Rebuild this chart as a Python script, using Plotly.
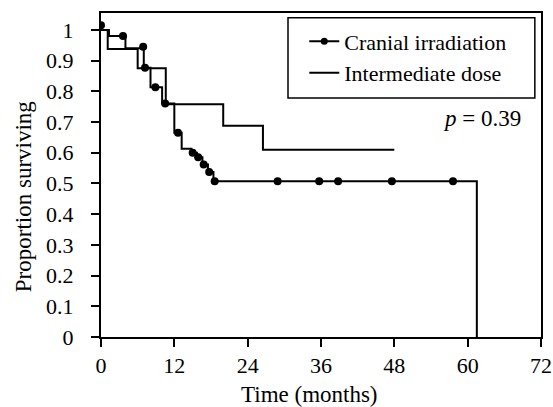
import plotly.graph_objects as go

# Cranial irradiation: step curve (event times and survival after each step)
cran_times = [0, 1.3, 4.0, 7.0, 8.1, 10.0, 12.0, 13.2, 14.8, 15.7, 16.6, 17.5, 18.4, 61.5]
cran_surv = [1.0, 0.98, 0.94, 0.877, 0.813, 0.76, 0.665, 0.613, 0.600, 0.585, 0.562, 0.537, 0.507, 0.0]
# Cranial irradiation: dot markers
cran_dot_t = [0, 3.6, 6.9, 7.2, 8.9, 10.5, 12.6, 15.0, 15.9, 16.8, 17.7, 18.6, 28.9, 35.7, 38.8, 47.6, 57.6]
cran_dot_s = [1.015, 0.98, 0.945, 0.877, 0.813, 0.76, 0.665, 0.600, 0.585, 0.562, 0.537, 0.507,
              0.507, 0.507, 0.507, 0.507, 0.507]

# Intermediate dose: step curve
int_times = [0, 1.1, 6.0, 10.6, 20.0, 26.5, 48.0]
int_surv = [1.0, 0.9375, 0.875, 0.758, 0.688, 0.61, 0.61]

x_ticks = [0, 12, 24, 36, 48, 60, 72]
y_ticks = [0, 0.1, 0.2, 0.3, 0.4, 0.5, 0.6, 0.7, 0.8, 0.9, 1]
y_tick_text = ["0", "0.1", "0.2", "0.3", "0.4", "0.5", "0.6", "0.7", "0.8", "0.9", "1"]

FONT = "Liberation Serif, Times New Roman, serif"

fig = go.Figure()
fig.add_trace(go.Scatter(x=cran_times, y=cran_surv, mode="lines", line_shape="hv",
                         line=dict(color="black", width=2), showlegend=False, hoverinfo="skip"))
fig.add_trace(go.Scatter(x=cran_dot_t, y=cran_dot_s, mode="markers",
                         marker=dict(color="black", size=8), showlegend=False))
fig.add_trace(go.Scatter(x=[None], y=[None], mode="lines+markers", name="Cranial irradiation",
                         line=dict(color="black", width=2), marker=dict(color="black", size=7)))
fig.add_trace(go.Scatter(x=int_times, y=int_surv, mode="lines", line_shape="hv",
                         name="Intermediate dose", line=dict(color="black", width=2)))

axis_common = dict(showline=True, linecolor="black", linewidth=2, mirror=True,
                   ticks="outside", ticklen=8, tickwidth=2, tickcolor="black",
                   showgrid=False, zeroline=False, automargin=False,
                   tickfont=dict(family=FONT, size=22, color="black"))

fig.update_xaxes(range=[0, 72], tickvals=x_ticks, ticktext=[str(v) for v in x_ticks],
                 **axis_common)
fig.update_yaxes(range=[0, 1.055], tickvals=y_ticks, ticktext=y_tick_text,
                 ticklabelstandoff=13, **axis_common)

fig.add_annotation(text="Time (months)", xref="paper", yref="paper", x=0.473, y=-0.177,
                   xanchor="center", yanchor="middle", showarrow=False,
                   font=dict(family=FONT, size=23, color="black"))
fig.add_annotation(text="Proportion surviving", xref="paper", yref="paper", x=-0.177, y=0.435,
                   xanchor="center", yanchor="middle", textangle=-90, showarrow=False,
                   font=dict(family=FONT, size=23, color="black"))
fig.add_annotation(text="<i>p</i> = 0.39", xref="paper", yref="paper", x=0.96, y=0.675,
                   xanchor="right", yanchor="middle", showarrow=False,
                   font=dict(family=FONT, size=23, color="black"))

# legend frame
fig.add_shape(type="rect", xref="paper", yref="paper", x0=0.425, x1=0.986, y0=0.738, y1=0.985,
              line=dict(color="black", width=1.5), fillcolor="white", layer="below")

fig.update_layout(
    template="none",
    width=553, height=407,
    margin=dict(l=101, r=12, t=13, b=70),
    paper_bgcolor="white", plot_bgcolor="white",
    font=dict(family=FONT, color="black"),
    legend=dict(x=0.462, y=0.977, xanchor="left", yanchor="top",
                borderwidth=0, bgcolor="rgba(0,0,0,0)",
                font=dict(family=FONT, size=22, color="black")),
)

fig.write_html("out.html", config={"displayModeBar": False},
               post_script="document.body.style.margin='0';")
